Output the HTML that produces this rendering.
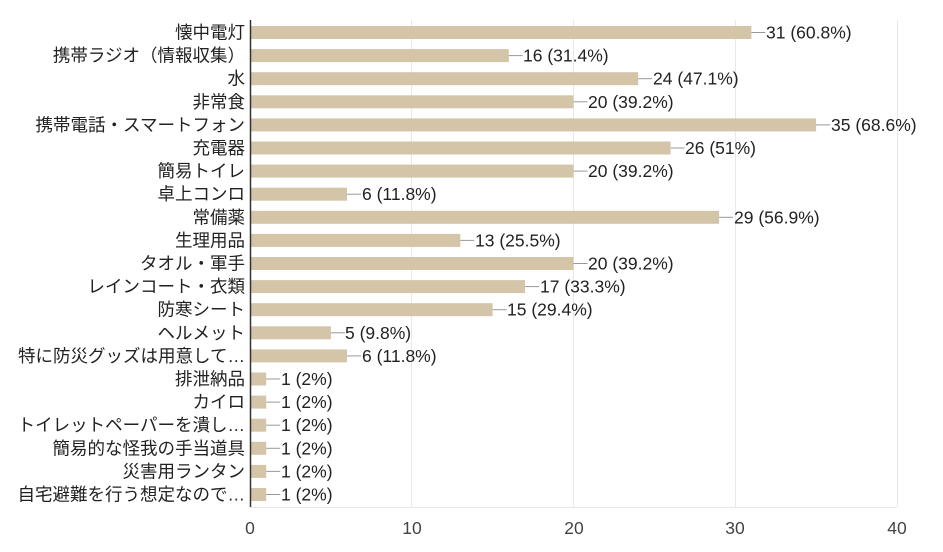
<!DOCTYPE html>
<html><head><meta charset="utf-8"><style>body{margin:0;background:#fff}</style></head><body>
<svg width="943" height="547" xmlns="http://www.w3.org/2000/svg" font-family="'Liberation Sans','Noto Sans CJK JP',sans-serif" font-size="17.5" fill="#222">
<g stroke="#e8e8e8" stroke-width="1">
<line x1="411.5" y1="20" x2="411.5" y2="507"/><line x1="573.5" y1="20" x2="573.5" y2="507"/><line x1="735.5" y1="20" x2="735.5" y2="507"/><line x1="897.5" y1="20" x2="897.5" y2="507"/>
<line x1="250" y1="507.5" x2="897" y2="507.5"/>
</g>
<g fill="#d4c5a9">
<rect x="251" y="26" width="500.4" height="13"/>
<rect x="251" y="49.1" width="257.8" height="13"/>
<rect x="251" y="72.2" width="387.2" height="13"/>
<rect x="251" y="95.3" width="322.5" height="13"/>
<rect x="251" y="118.4" width="565.1" height="13"/>
<rect x="251" y="141.5" width="419.6" height="13"/>
<rect x="251" y="164.6" width="322.5" height="13"/>
<rect x="251" y="187.7" width="96" height="13"/>
<rect x="251" y="210.8" width="468.1" height="13"/>
<rect x="251" y="233.9" width="209.3" height="13"/>
<rect x="251" y="257" width="322.5" height="13"/>
<rect x="251" y="280.1" width="274" height="13"/>
<rect x="251" y="303.2" width="241.6" height="13"/>
<rect x="251" y="326.3" width="79.9" height="13"/>
<rect x="251" y="349.4" width="96" height="13"/>
<rect x="251" y="372.5" width="15.2" height="13"/>
<rect x="251" y="395.6" width="15.2" height="13"/>
<rect x="251" y="418.7" width="15.2" height="13"/>
<rect x="251" y="441.8" width="15.2" height="13"/>
<rect x="251" y="464.9" width="15.2" height="13"/>
<rect x="251" y="488" width="15.2" height="13"/>
</g>
<g stroke="#999" stroke-width="1">
<line x1="751.4" y1="32.5" x2="765.4" y2="32.5"/>
<line x1="508.8" y1="55.6" x2="522.8" y2="55.6"/>
<line x1="638.2" y1="78.7" x2="652.2" y2="78.7"/>
<line x1="573.5" y1="101.8" x2="587.5" y2="101.8"/>
<line x1="816.1" y1="124.9" x2="830.1" y2="124.9"/>
<line x1="670.6" y1="148" x2="684.6" y2="148"/>
<line x1="573.5" y1="171.1" x2="587.5" y2="171.1"/>
<line x1="347" y1="194.2" x2="361" y2="194.2"/>
<line x1="719.1" y1="217.3" x2="733.1" y2="217.3"/>
<line x1="460.3" y1="240.4" x2="474.3" y2="240.4"/>
<line x1="573.5" y1="263.5" x2="587.5" y2="263.5"/>
<line x1="525" y1="286.6" x2="539" y2="286.6"/>
<line x1="492.6" y1="309.7" x2="506.6" y2="309.7"/>
<line x1="330.9" y1="332.8" x2="344.9" y2="332.8"/>
<line x1="347" y1="355.9" x2="361" y2="355.9"/>
<line x1="266.2" y1="379" x2="280.2" y2="379"/>
<line x1="266.2" y1="402.1" x2="280.2" y2="402.1"/>
<line x1="266.2" y1="425.2" x2="280.2" y2="425.2"/>
<line x1="266.2" y1="448.3" x2="280.2" y2="448.3"/>
<line x1="266.2" y1="471.4" x2="280.2" y2="471.4"/>
<line x1="266.2" y1="494.5" x2="280.2" y2="494.5"/>
</g>
<g>
<text x="766" y="38.5">31 (60.8%)</text>
<text x="523" y="61.6">16 (31.4%)</text>
<text x="653" y="84.7">24 (47.1%)</text>
<text x="588" y="107.8">20 (39.2%)</text>
<text x="831" y="130.9">35 (68.6%)</text>
<text x="685" y="154">26 (51%)</text>
<text x="588" y="177.1">20 (39.2%)</text>
<text x="362" y="200.2">6 (11.8%)</text>
<text x="734" y="223.3">29 (56.9%)</text>
<text x="475" y="246.4">13 (25.5%)</text>
<text x="588" y="269.5">20 (39.2%)</text>
<text x="540" y="292.6">17 (33.3%)</text>
<text x="507" y="315.7">15 (29.4%)</text>
<text x="345" y="338.8">5 (9.8%)</text>
<text x="362" y="361.9">6 (11.8%)</text>
<text x="281" y="385">1 (2%)</text>
<text x="281" y="408.1">1 (2%)</text>
<text x="281" y="431.2">1 (2%)</text>
<text x="281" y="454.3">1 (2%)</text>
<text x="281" y="477.4">1 (2%)</text>
<text x="281" y="500.5">1 (2%)</text>
</g>
<g text-anchor="end">
<text x="245" y="38.5">懐中電灯</text>
<text x="245" y="61.6">携帯ラジオ（情報収集）</text>
<text x="245" y="84.7">水</text>
<text x="245" y="107.8">非常食</text>
<text x="245" y="130.9">携帯電話・スマートフォン</text>
<text x="245" y="154">充電器</text>
<text x="245" y="177.1">簡易トイレ</text>
<text x="245" y="200.2">卓上コンロ</text>
<text x="245" y="223.3">常備薬</text>
<text x="245" y="246.4">生理用品</text>
<text x="245" y="269.5">タオル・軍手</text>
<text x="245" y="292.6">レインコート・衣類</text>
<text x="245" y="315.7">防寒シート</text>
<text x="245" y="338.8">ヘルメット</text>
<text x="245" y="361.9">特に防災グッズは用意して…</text>
<text x="245" y="385">排泄納品</text>
<text x="245" y="408.1">カイロ</text>
<text x="245" y="431.2">トイレットペーパーを潰し…</text>
<text x="245" y="454.3">簡易的な怪我の手当道具</text>
<text x="245" y="477.4">災害用ランタン</text>
<text x="245" y="500.5">自宅避難を行う想定なので…</text>
</g>
<line x1="250.5" y1="20" x2="250.5" y2="507" stroke="#333" stroke-width="1.5"/>
<g text-anchor="middle" fill="#444">
<text x="250" y="534">0</text><text x="412" y="534">10</text><text x="574" y="534">20</text><text x="735" y="534">30</text><text x="897" y="534">40</text>
</g>
</svg>
</body></html>
